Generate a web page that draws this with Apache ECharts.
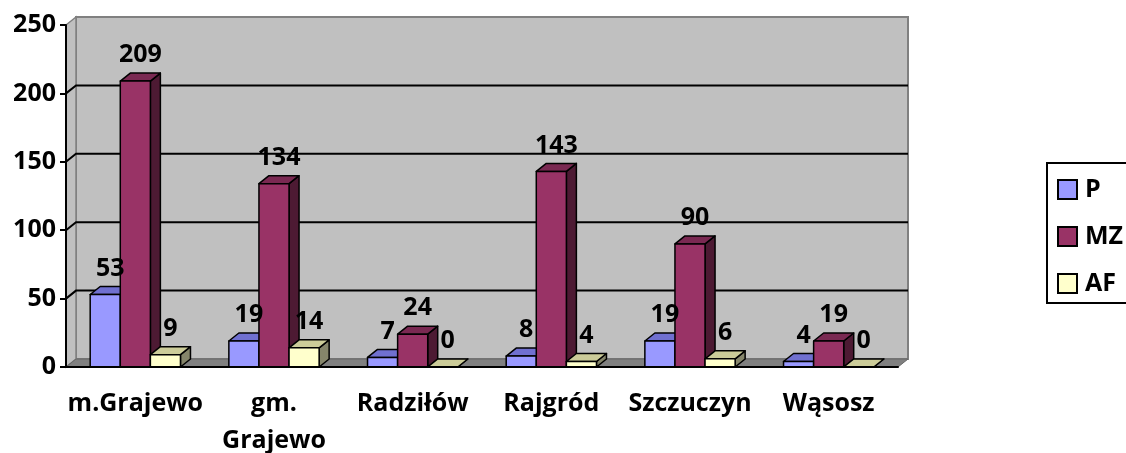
<!DOCTYPE html>
<html><head><meta charset="utf-8">
<script src="https://cdn.jsdelivr.net/npm/echarts@6/dist/echarts.min.js"></script>
<style>html,body{margin:0;padding:0;background:#fff}#c{width:1126px;height:453px}</style>
</head><body><div id="c"></div>
<script>
// ---- data ----
const categories = ['m.Grajewo', 'gm. Grajewo', 'Radziłów', 'Rajgród', 'Szczuczyn', 'Wąsosz'];
const seriesNames = ['P', 'MZ', 'AF'];
const valuesP  = [53, 19, 7, 8, 19, 4];
const valuesMZ = [209, 134, 24, 143, 90, 19];
const valuesAF = [9, 14, 0, 4, 6, 0];
const yTicks = [0, 50, 100, 150, 200, 250];

// ---- style ----
const FONT = 'Open Sans';
const FS = 25;
const DX = 10, DY = -8;
const palette = [
  { front: '#9999FF', top: '#7070D0', side: '#4A4A8A' },
  { front: '#993366', top: '#7A2952', side: '#4D1A33' },
  { front: '#FFFFCC', top: '#CCCC99', side: '#85856A' }
];
const allValues = [valuesP, valuesMZ, valuesAF];

function barGeom(si, params, api) {
  const ci = api.value(0), v = api.value(1);
  const base = api.coord([ci, 0]);
  const top = api.coord([ci, v]);
  const cw = api.size([1, 0])[0];
  const bw = cw * 0.217;
  const x0 = base[0] + (si - 1.5) * bw;
  return { x0: x0, x1: x0 + bw, yb: base[1], yt: top[1], bw: bw };
}

function barRender(si) {
  return function (params, api) {
    const g = barGeom(si, params, api);
    const c = palette[si];
    const st = (fill) => ({ fill: fill, stroke: '#000', lineWidth: 1.5, lineJoin: 'round' });
    return {
      type: 'group', children: [
        { type: 'polygon', shape: { points: [[g.x1, g.yt], [g.x1 + DX, g.yt + DY], [g.x1 + DX, g.yb + DY], [g.x1, g.yb]] }, style: st(c.side) },
        { type: 'polygon', shape: { points: [[g.x0, g.yt], [g.x0 + DX, g.yt + DY], [g.x1 + DX, g.yt + DY], [g.x1, g.yt]] }, style: st(c.top) },
        { type: 'rect', shape: { x: g.x0, y: g.yt, width: g.bw, height: g.yb - g.yt }, style: st(c.front) }
      ]
    };
  };
}

function labelRender(si) {
  return function (params, api) {
    const g = barGeom(si, params, api);
    return {
      type: 'text',
      style: {
        text: String(api.value(1)), x: (g.x0 + g.x1) / 2 + DX / 2, y: g.yt - 26,
        align: 'center', verticalAlign: 'middle',
        font: 'bold ' + FS + 'px "' + FONT + '"', fill: '#000'
      }
    };
  };
}

function wallRender(params, api) {
  const cs = params.coordSys;
  const L = cs.x, R = cs.x + cs.width, T = cs.y, B = cs.y + cs.height;
  const ch = [];
  ch.push({ type: 'rect', shape: { x: L + DX, y: T + DY, width: R - L, height: B - T }, style: { fill: '#C0C0C0', stroke: '#808080', lineWidth: 2 } });
  ch.push({ type: 'polygon', shape: { points: [[L, T], [L + DX, T + DY], [L + DX, B + DY], [L, B]] }, style: { fill: '#C0C0C0', stroke: '#808080', lineWidth: 1.5 } });
  ch.push({ type: 'polygon', shape: { points: [[L, B], [L + DX, B + DY], [R + DX, B + DY], [R, B]] }, style: { fill: '#808080', stroke: '#666', lineWidth: 1 } });
  yTicks.slice(1, -1).forEach(t => {
    const y = api.coord([0, t])[1];
    ch.push({ type: 'polyline', shape: { points: [[L, y], [L + DX, y + DY], [R + DX, y + DY]] }, style: { stroke: '#000', lineWidth: 2, fill: null } });
  });
  return { type: 'group', children: ch };
}

const series = [{
  type: 'custom', name: 'walls', coordinateSystem: 'cartesian2d', z: 1, silent: true,
  renderItem: wallRender, data: [[0, 0]]
}];
seriesNames.forEach((n, si) => {
  series.push({
    type: 'custom', name: n, coordinateSystem: 'cartesian2d', z: 2,
    itemStyle: { color: palette[si].front },
    renderItem: barRender(si),
    data: allValues[si].map((v, i) => [i, v])
  });
});
seriesNames.forEach((n, si) => {
  series.push({
    type: 'custom', name: n + '_lbl', coordinateSystem: 'cartesian2d', z: 6, silent: true,
    renderItem: labelRender(si),
    data: allValues[si].map((v, i) => [i, v])
  });
});

const chart = echarts.init(document.getElementById('c'), null, { renderer: 'canvas' });
chart.setOption({
  animation: false,
  backgroundColor: '#fff',
  textStyle: { fontFamily: FONT },
  grid: { left: 66, right: 228, top: 25, bottom: 86, containLabel: false, outerBoundsMode: 'none' },
  xAxis: {
    type: 'category', data: categories, z: 5,
    axisLine: { lineStyle: { color: '#000', width: 2 } },
    axisTick: { lineStyle: { color: '#000', width: 2 }, length: 6 },
    axisLabel: {
      interval: 0, margin: 18, color: '#000', fontSize: FS, fontWeight: 'bold', fontFamily: FONT,
      lineHeight: 37, verticalAlign: 'top', formatter: v => v.replace(' ', '\n')
    },
    splitLine: { show: false }
  },
  yAxis: {
    type: 'value', min: yTicks[0], max: yTicks[yTicks.length - 1], interval: 50, z: 5,
    axisLine: { show: true, lineStyle: { color: '#000', width: 2 } },
    axisTick: { show: true, length: 6, lineStyle: { color: '#000', width: 2 } },
    axisLabel: { margin: 10, color: '#000', fontSize: FS, fontWeight: 'bold', fontFamily: FONT },
    splitLine: { show: false }
  },
  graphic: [{
    type: 'rect', silent: true,
    shape: { x: 1047, y: 163, width: 110, height: 140 },
    style: { fill: 'none', stroke: '#000', lineWidth: 2 }
  }],
  legend: {
    orient: 'vertical', left: 1047, top: 163,
    itemWidth: 19, itemHeight: 19, itemGap: 22,
    padding: [14, 4, 8, 10],
    icon: 'rect',
    textStyle: { fontSize: FS, fontWeight: 'bold', fontFamily: FONT, color: '#000', lineHeight: 25, padding: [0, 0, 0, 3] },
    data: seriesNames.map((n, si) => ({ name: n, itemStyle: { color: palette[si].front, borderColor: '#000', borderWidth: 2 } }))
  },
  series: series
});
</script>
</body></html>
